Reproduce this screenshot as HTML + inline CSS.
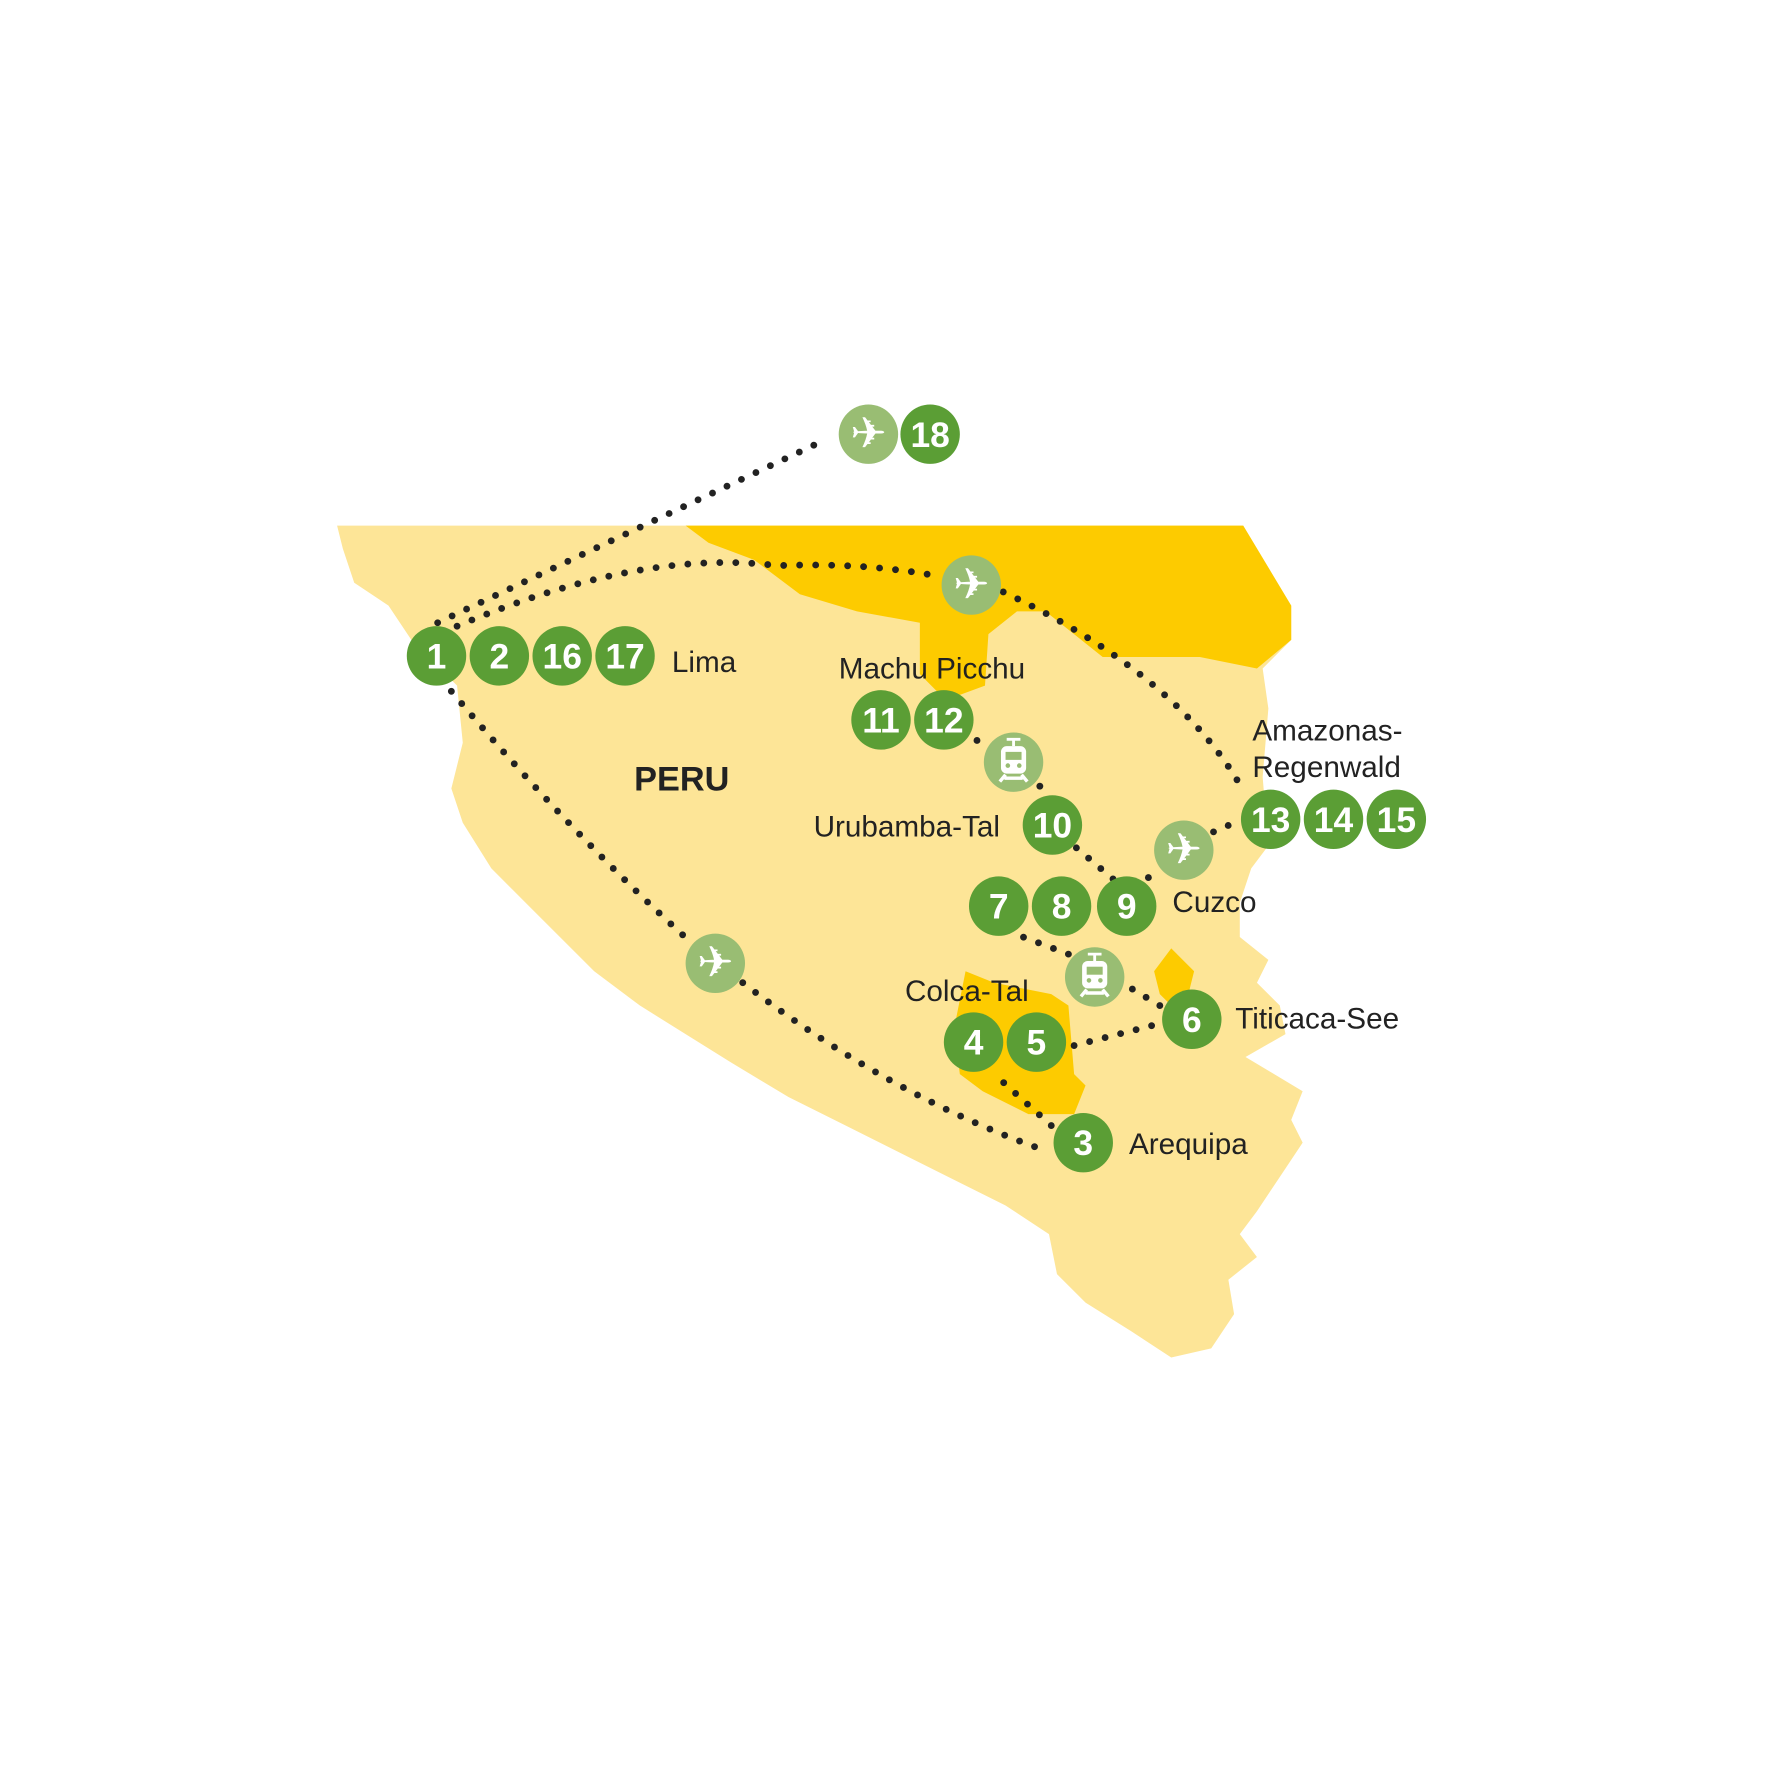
<!DOCTYPE html>
<html><head><style>html,body{margin:0;padding:0;background:#fff}svg{display:block}</style></head><body>
<svg width="1778" height="1778" viewBox="0 0 1556 1556" xmlns="http://www.w3.org/2000/svg">
<defs>
<g id="plane"><text x="0" y="12" font-size="38" fill="#fff" text-anchor="middle" font-family="DejaVu Sans, sans-serif">✈</text></g>
<g id="train" fill="#fff"><rect x="-11" y="-14" width="22" height="24" rx="5"/><rect x="-7" y="-9" width="14" height="7" fill="#99bd73"/><circle cx="-5" cy="3" r="2" fill="#99bd73"/><circle cx="5" cy="3" r="2" fill="#99bd73"/><path d="M-12 17 L-7 11 M12 17 L7 11 M-8 14 H8" stroke="#fff" stroke-width="3" fill="none"/><path d="M-6 -20 H6 M0 -20 V-14" stroke="#fff" stroke-width="2.5"/></g>
</defs>
<path fill="#fde597" d="M295 460 L1088 460 L1130 530 L1130 560 L1105 585 L1110 620 L1105 680 L1110 740 L1095 760 L1085 790 L1085 820 L1110 840 L1100 860 L1120 880 L1125 905 L1090 925 L1140 955 L1130 980 L1140 1000 L1120 1030 L1100 1060 L1085 1080 L1100 1100 L1075 1120 L1080 1150 L1060 1180 L1025 1188 L990 1165 L950 1140 L925 1115 L918 1080 L880 1055 L830 1030 L790 1010 L740 985 L690 960 L640 930 L600 905 L560 880 L520 850 L490 820 L460 790 L430 760 L405 720 L395 690 L405 650 L400 600 L360 560 L340 530 L310 510 L300 480 Z"/>
<path fill="#fdcb00" d="M600 460 L1088 460 L1130 530 L1130 560 L1100 585 L1050 575 L965 575 L915 535 L890 535 L865 555 L862 600 L835 610 L820 605 L805 590 L805 545 L750 535 L700 520 L660 490 L620 475 Z"/>
<path fill="#fdcb00" d="M845 850 L870 860 L920 870 L935 880 L940 940 L950 950 L940 975 L900 975 L860 955 L840 940 L835 900 Z"/>
<path fill="#fdcb00" d="M1010 850 L1025 830 L1045 850 L1040 870 L1025 880 L1015 870 Z"/>
<g fill="none" stroke="#222" stroke-width="6" stroke-linecap="round" stroke-dasharray="0 14">
<path d="M383 545 L722 385"/>
<path d="M400 548 Q560 480 680 495 Q760 492 825 505"/>
<path d="M878 518 Q1030 590 1087 690"/>
<path d="M395 605 Q500 730 605 825"/>
<path d="M650 860 Q780 960 918 1008"/>
<path d="M920 985 L870 940"/>
<path d="M940 915 L1018 895"/>
<path d="M1015 880 L985 862"/>
<path d="M935 835 L890 818"/>
<path d="M1005 768 L1012 762"/>
<path d="M1062 728 L1085 718"/>
<path d="M942 742 L975 770"/>
<path d="M910 688 L915 698"/>
<path d="M855 648 L864 655"/>
</g>
<g fill="#99bd73">
<circle cx="760" cy="380" r="26"/><circle cx="850" cy="512" r="26"/><circle cx="887" cy="667" r="26"/><circle cx="1036" cy="744" r="26"/><circle cx="958" cy="855" r="26"/><circle cx="626" cy="843" r="26"/>
</g>
<use href="#plane" x="760" y="380"/><use href="#plane" x="850" y="512"/><use href="#plane" x="1036" y="744"/><use href="#plane" x="626" y="843"/>
<use href="#train" x="887" y="667"/><use href="#train" x="958" y="855"/>
<g fill="#5b9e35">
<circle cx="814" cy="380" r="26"/>
<circle cx="382" cy="574" r="26"/><circle cx="437" cy="574" r="26"/><circle cx="492" cy="574" r="26"/><circle cx="547" cy="574" r="26"/>
<circle cx="771" cy="630" r="26"/><circle cx="826" cy="630" r="26"/>
<circle cx="921" cy="722" r="26"/>
<circle cx="1112" cy="717" r="26"/><circle cx="1167" cy="717" r="26"/><circle cx="1222" cy="717" r="26"/>
<circle cx="874" cy="793" r="26"/><circle cx="929" cy="793" r="26"/><circle cx="986" cy="793" r="26"/>
<circle cx="1043" cy="892" r="26"/>
<circle cx="852" cy="912" r="26"/><circle cx="907" cy="912" r="26"/>
<circle cx="948" cy="1000" r="26"/>
</g>
<g fill="#fff" font-family="Liberation Sans, sans-serif" font-size="31" text-anchor="middle" font-weight="bold">
<text x="814" y="391">18</text>
<text x="382" y="585">1</text><text x="437" y="585">2</text><text x="492" y="585">16</text><text x="547" y="585">17</text>
<text x="771" y="641">11</text><text x="826" y="641">12</text><text x="921" y="733">10</text>
<text x="1112" y="728">13</text><text x="1167" y="728">14</text><text x="1222" y="728">15</text>
<text x="874" y="804">7</text><text x="929" y="804">8</text><text x="986" y="804">9</text>
<text x="1043" y="903">6</text><text x="852" y="923">4</text><text x="907" y="923">5</text><text x="948" y="1011">3</text>
</g>
<g fill="#222" font-family="Liberation Sans, sans-serif" font-size="26">
<text x="588" y="588">Lima</text>
<text x="734" y="594">Machu Picchu</text>
<text x="1096" y="648">Amazonas-</text>
<text x="1096" y="680">Regenwald</text>
<text x="712" y="732">Urubamba-Tal</text>
<text x="1026" y="798">Cuzco</text>
<text x="792" y="876">Colca-Tal</text>
<text x="1081" y="900">Titicaca-See</text>
<text x="988" y="1010">Arequipa</text>
<text x="555" y="692" font-weight="bold" font-size="30">PERU</text>
</g>
</svg>
</body></html>
